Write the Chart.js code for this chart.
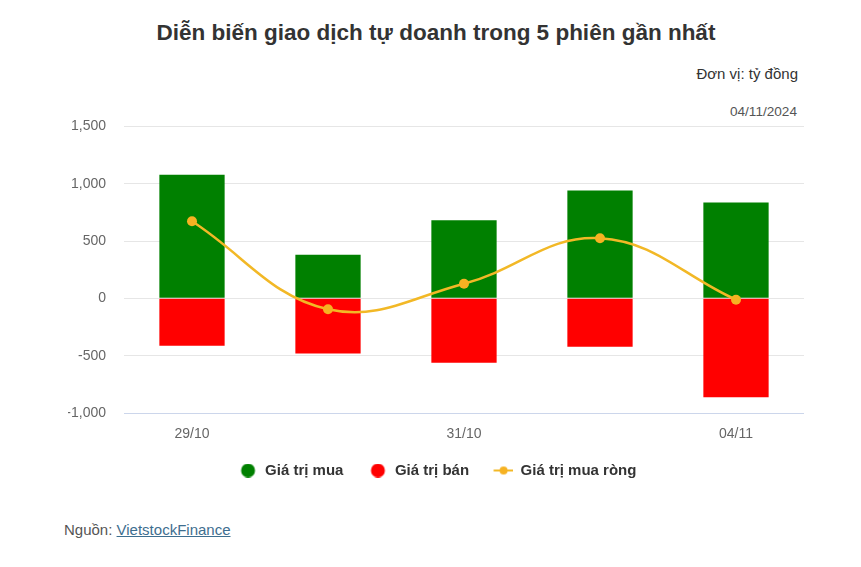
<!DOCTYPE html>
<html lang="vi">
<head>
<meta charset="UTF-8">
<title>Tự doanh 5 phiên</title>
<script src="https://cdn.jsdelivr.net/npm/chart.js@4.4.0/dist/chart.umd.min.js"></script>
<style>
  body { margin: 0; width: 861px; height: 567px; background: #fff; font-family: "Liberation Sans", Arial, sans-serif; position: relative; overflow: hidden; }
  #title { position: absolute; top: 20px; left: 0; width: 872px; text-align: center; font-size: 22.5px; font-weight: bold; color: #333; }
  #unit { position: absolute; top: 65px; right: 63px; font-size: 15px; color: #333; }
  #date { position: absolute; top: 104px; right: 64px; font-size: 13.6px; color: #555; }
  #src { position: absolute; top: 521px; left: 64px; font-size: 15px; color: #555; }
  #src a { color: #3e6e8f; text-decoration: underline; }
  #box { position: absolute; top: 100px; left: 0; width: 861px; height: 400px; }
</style>
</head>
<body>
<div id="title">Diễn biến giao dịch tự doanh trong 5 phiên gần nhất</div>
<div id="unit">Đơn vị: tỷ đồng</div>
<div id="date">04/11/2024</div>
<div id="box"><canvas id="chart"></canvas></div>
<div id="src">Nguồn: <a href="#">VietstockFinance</a></div>

<script>
// dữ liệu (tỷ đồng)
const days = ['29/10', '30/10', '31/10', '01/11', '04/11'];
const buyValues = [1078, 380, 682, 940, 836];
const sellValues = [-413, -482, -562, -422, -862];
const netValues = [672, -95, 128, 525, -12];
const yTicks = [-1000, -500, 0, 500, 1000, 1500];

// icon chú thích vẽ sẵn (rộng 22, tâm lệch phải để khoảng cách giống bản gốc)
function makeIcon(kind, color) {
    const cv = document.createElement('canvas');
    cv.width = 22; cv.height = 14;
    const c = cv.getContext('2d');
    c.fillStyle = color;
    if (kind === 'line') {
        c.strokeStyle = '#f2b826'; c.lineWidth = 2;
        c.beginPath(); c.moveTo(2.5, 7); c.lineTo(22, 7); c.stroke();
        c.beginPath(); c.arc(12.5, 7, 4, 0, Math.PI * 2); c.fill();
    } else {
        c.beginPath(); c.arc(12.5, 7, 7, 0, Math.PI * 2); c.fill();
    }
    return cv;
}
const icons = [makeIcon('dot', '#008000'), makeIcon('dot', '#ff0000'), makeIcon('line', '#f6b222')];

Chart.defaults.font.family = '"Liberation Sans", Arial, sans-serif';

new Chart(document.getElementById('chart'), {
    type: 'bar',
    data: {
        labels: days,
        datasets: [
            {
                label: 'Giá trị mua', data: buyValues, backgroundColor: '#008000',
                borderWidth: 0, stack: 'gd', order: 1,
                barPercentage: 0.48, categoryPercentage: 1
            },
            {
                label: 'Giá trị bán', data: sellValues, backgroundColor: '#ff0000',
                borderWidth: 0, stack: 'gd', order: 1,
                barPercentage: 0.48, categoryPercentage: 1
            },
            {
                type: 'line', label: 'Giá trị mua ròng', data: netValues, stack: 'net', order: 0,
                borderColor: '#f2b826', backgroundColor: '#f6b222', borderWidth: 2.5,
                pointRadius: 5, pointBorderWidth: 0, pointBackgroundColor: '#f6b222',
                tension: 0.4, fill: false
            }
        ]
    },
    options: {
        responsive: true,
        maintainAspectRatio: false,
        animation: false,
        locale: 'en-US',
        layout: { padding: { top: 24, right: 57, bottom: 12, left: 68 } },
        scales: {
            x: {
                stacked: true,
                grid: { display: false, drawTicks: false },
                border: { display: false },
                afterFit: function (s) { s.height = 28; },
                ticks: {
                    color: '#666', font: { size: 14 }, padding: 13, autoSkip: false, maxRotation: 0,
                    callback: function (v, i) { return i % 2 === 0 ? days[i] : ''; }
                }
            },
            y: {
                stacked: true,
                min: yTicks[0], max: yTicks[yTicks.length - 1],
                afterBuildTicks: function (s) { s.ticks = yTicks.map(v => ({ value: v })); },
                afterFit: function (s) { s.width = 56; },
                border: { display: false },
                grid: {
                    drawTicks: false,
                    color: ctx => ctx.tick && ctx.tick.value === -1000 ? '#ccd6eb' : '#e6e6e6',
                    lineWidth: 1
                },
                ticks: { color: '#666', font: { size: 14 }, padding: 18 }
            }
        },
        plugins: {
            tooltip: { enabled: false },
            legend: {
                position: 'bottom',
                labels: {
                    color: '#333',
                    font: { size: 15, weight: 'bold' },
                    usePointStyle: true,
                    boxHeight: 10,
                    pointStyleWidth: 22,
                    padding: 22,
                    generateLabels: function (chart) {
                        const items = Chart.defaults.plugins.legend.labels.generateLabels(chart);
                        items.sort((a, b) => a.datasetIndex - b.datasetIndex);
                        items.forEach(it => {
                            it.pointStyle = icons[it.datasetIndex];
                            it.lineWidth = 0;
                        });
                        return items;
                    }
                }
            }
        }
    }
});
</script>
</body>
</html>
